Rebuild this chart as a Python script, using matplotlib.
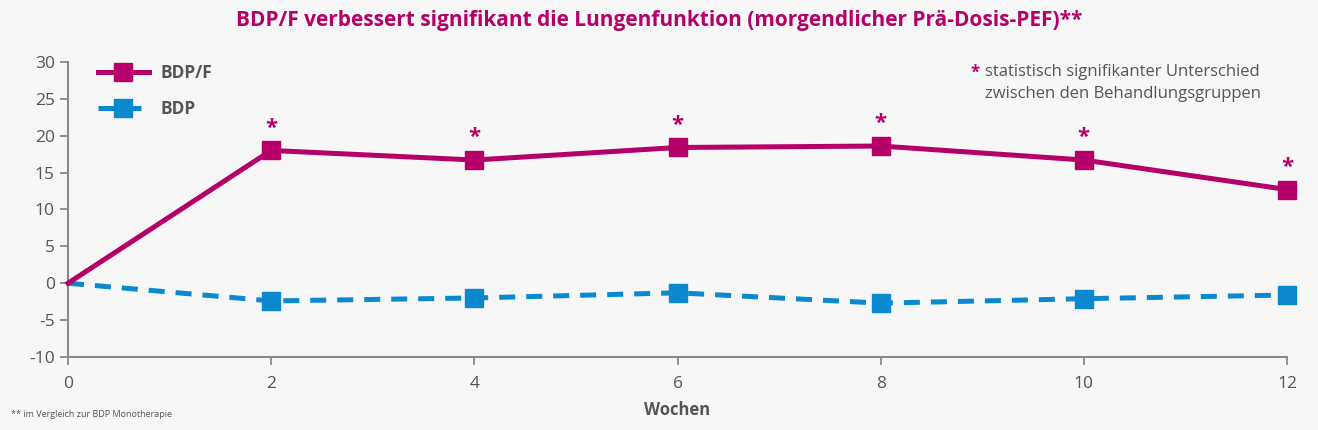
import matplotlib.pyplot as plt

# Wochen und Veraenderung des PEF (L/min)
weeks = [0, 2, 4, 6, 8, 10, 12]
bdp_f = [0, 18.0, 16.7, 18.4, 18.6, 16.7, 12.7]
bdp = [0, -2.4, -2.0, -1.3, -2.7, -2.1, -1.6]
signif_weeks = [2, 4, 6, 8, 10, 12]

magenta = "#b5006a"
blue = "#0a88d0"
grey = "#555555"
bg = "#f7f7f7"

plt.rcParams['font.family'] = ['Open Sans', 'DejaVu Sans']
plt.rcParams['axes.unicode_minus'] = False

fig = plt.figure(figsize=(13.18, 4.30), dpi=100, facecolor=bg)
ax = fig.add_axes([0.0516, 0.1698, 0.9249, 0.6862], facecolor=bg)

ax.plot(weeks, bdp, color=blue, lw=3.6, dashes=(3.2, 2.2),
        marker="s", markersize=13, markevery=list(range(1, len(weeks))),
        label="BDP", zorder=3, clip_on=False)
ax.plot(weeks, bdp_f, color=magenta, lw=3.6,
        marker="s", markersize=13, markevery=list(range(1, len(weeks))),
        label="BDP/F", zorder=4, clip_on=False)

# Sternchen ueber den signifikanten Punkten
for w in signif_weeks:
    y = bdp_f[weeks.index(w)]
    ax.text(w, y + 3.0, "*", color=magenta, fontsize=16, fontweight="bold",
            ha="center", va="center")

ax.set_xlim(0, 12)
ax.set_ylim(-10, 30)
ax.set_xticks(range(0, 13, 2))
ax.set_yticks(range(-10, 31, 5))

for s in ["top", "right"]:
    ax.spines[s].set_visible(False)
for s in ["left", "bottom"]:
    ax.spines[s].set_color("#8a8a8a")
    ax.spines[s].set_linewidth(1.5)
ax.tick_params(colors="#8a8a8a", labelcolor=grey, labelsize=12.5,
               length=6, width=1.3)
ax.tick_params(axis="x", pad=8)

ax.set_xlabel("Wochen", fontsize=12, fontweight="bold", color=grey, labelpad=6)

h, l = ax.get_legend_handles_labels()
leg = ax.legend(h[::-1], l[::-1], loc="upper left", bbox_to_anchor=(0.012, 1.045),
                frameon=False, handlelength=2.9, handletextpad=0.7,
                labelspacing=1.0, prop={"size": 12.5, "weight": "bold"})
for t in leg.get_texts():
    t.set_color(grey)

fig.text(0.5, 0.953, "BDP/F verbessert signifikant die Lungenfunktion (morgendlicher Prä-Dosis-PEF)**",
         ha="center", va="center", fontsize=15, fontweight="bold", color=magenta)

fig.text(0.7365, 0.832, "*", color=magenta, fontsize=12, fontweight="bold",
         ha="left", va="center")
fig.text(0.747, 0.832, "statistisch signifikanter Unterschied", color=grey,
         fontsize=12, ha="left", va="center")
fig.text(0.747, 0.781, "zwischen den Behandlungsgruppen", color=grey,
         fontsize=12, ha="left", va="center")

fig.text(0.008, 0.037, "** im Vergleich zur BDP Monotherapie", color=grey,
         fontsize=6.5, ha="left", va="center")

fig.savefig("out.png", dpi=100, facecolor=bg)
